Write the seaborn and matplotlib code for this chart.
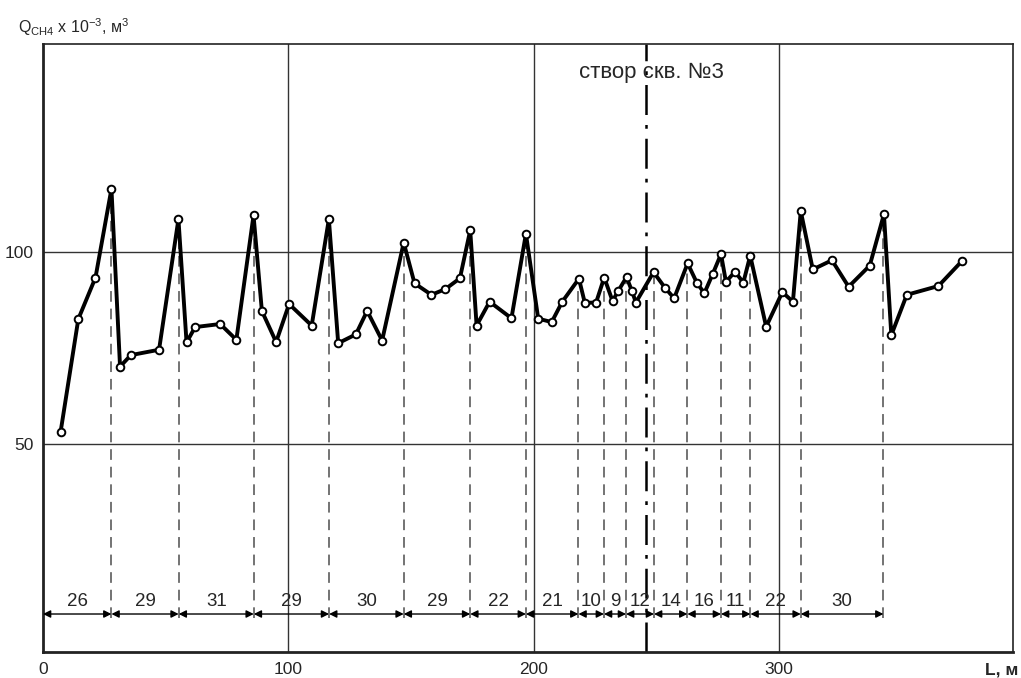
import numpy as np
import pandas as pd
import matplotlib
matplotlib.use("Agg")
import matplotlib.pyplot as plt
import seaborn as sns

# distance along the profile, m
dist = [7.2, 14.4, 21.4, 27.9, 31.4, 35.8, 47.3, 55.2, 58.5, 62.0, 72.2, 78.8,
        85.8, 89.2, 95.0, 100.3, 109.5, 116.5, 120.3, 127.5, 132.1, 138.2,
        147.0, 151.4, 158.3, 164.0, 169.9, 174.1, 176.7, 182.0, 190.9, 196.8,
        201.8, 207.3, 211.6, 218.4, 220.8, 225.4, 228.7, 232.1, 234.4, 237.8,
        240.0, 241.6, 248.8, 253.4, 257.2, 262.7, 266.4, 269.5, 272.9, 276.3,
        278.3, 282.0, 285.4, 288.2, 294.7, 301.3, 305.6, 308.8, 313.7, 321.5,
        328.3, 336.9, 342.7, 345.7, 352.0, 364.9, 374.5]
# methane volume, x 10^-3 m3
q_ch4 = [53.3, 82.6, 93.4, 116.5, 70.2, 73.2, 74.6, 108.6, 76.5, 80.5, 81.3, 77.2,
         109.6, 84.7, 76.6, 86.5, 80.9, 108.6, 76.3, 78.6, 84.7, 77.0,
         102.5, 91.9, 88.9, 90.4, 93.2, 105.7, 80.9, 87.1, 82.8, 104.8,
         82.7, 81.8, 87.1, 93.1, 86.8, 86.9, 93.4, 87.3, 89.9, 93.5,
         89.9, 86.9, 94.8, 90.8, 88.0, 97.1, 92.1, 89.3, 94.3, 99.5,
         92.3, 94.9, 92.1, 99.1, 80.6, 89.6, 87.1, 110.7, 95.5, 97.9,
         91.0, 96.5, 109.9, 78.4, 88.9, 91.2, 97.7]

# interval boundaries (peaks) and their labels
bounds = [0, 27.9, 55.3, 85.9, 116.6, 147.0, 174.1, 196.8, 218.2, 228.6, 237.6,
          249.0, 262.6, 276.3, 288.3, 308.8, 342.5]
peak_q = [116.5, 108.6, 109.6, 108.6, 102.5, 105.7, 104.8, 93.1, 93.4, 93.5,
          94.8, 97.1, 99.5, 99.1, 110.7, 109.9]
seg_labels = ["26", "29", "31", "29", "30", "29", "22", "21", "10", "9", "12",
              "14", "16", "11", "22", "30"]
well_x = 245.8

df = pd.DataFrame({"L": dist, "Q": q_ch4})

sns.set_style("white")
plt.rcParams["font.family"] = ["Liberation Sans", "DejaVu Sans"]

fig = plt.figure(figsize=(10.21, 6.78), dpi=100)
ax = fig.add_axes([0.0421, 0.0383, 0.9501, 0.8968])

for v in [100, 200, 300]:
    ax.axvline(v, color="#333333", lw=1.0, zorder=1)
for h in [50, 100]:
    ax.axhline(h, color="#333333", lw=1.0, zorder=1)

# dashed drops from peaks to the dimension line
arrow_y = 5.8
for bx, by in zip(bounds[1:], peak_q):
    ax.plot([bx, bx], [arrow_y - 1.0, by], color="#4d4d4d", lw=1.1,
            dashes=(7, 4.5), zorder=2)

# dimension arrows and labels
for i, lab in enumerate(seg_labels):
    x0, x1 = bounds[i], bounds[i + 1]
    ax.annotate("", xy=(x1, arrow_y), xytext=(x0, arrow_y),
                arrowprops=dict(arrowstyle="<|-|>", color="black", lw=1.0,
                                mutation_scale=11, shrinkA=0, shrinkB=0),
                zorder=3)
    ax.text((x0 + x1) / 2, arrow_y + 1.1, lab, ha="center", va="bottom",
            fontsize=13.5)

# well line
ax.axvline(well_x, color="black", lw=1.8, dashes=(12, 4, 1.5, 4), zorder=2)
ax.text(218.5, 146.7, "створ скв. №3", ha="left", va="center", fontsize=16)

sns.lineplot(data=df, x="L", y="Q", ax=ax, color="black", lw=2.8,
             marker="o", markersize=5.5, markerfacecolor="white",
             markeredgecolor="black", markeredgewidth=1.4, zorder=5)

ax.set_xlim(0, 395.3)
ax.set_ylim(-4.1, 154.2)
ax.set_xticks([0, 100, 200, 300])
ax.set_yticks([50, 100])
ax.tick_params(length=0, labelsize=12.5, pad=7)
ax.set_xlabel("")
ax.set_ylabel("")

for side in ["left", "bottom"]:
    ax.spines[side].set_linewidth(2.0)
for side in ["top", "right"]:
    ax.spines[side].set_linewidth(1.2)
for s in ax.spines.values():
    s.set_color("#222222")

fig.text(18 / 1021, 1 - 27 / 678,
         r"Q$_{\mathregular{CH4}}$ x 10$^{\mathregular{-3}}$, м$^{\mathregular{3}}$",
         ha="left", va="center", fontsize=11.5)
fig.text(1018 / 1021, 1 - 670 / 678, "L, м", ha="right", va="center",
         fontsize=12.5, fontweight="bold")

fig.savefig("out.png", dpi=100)
